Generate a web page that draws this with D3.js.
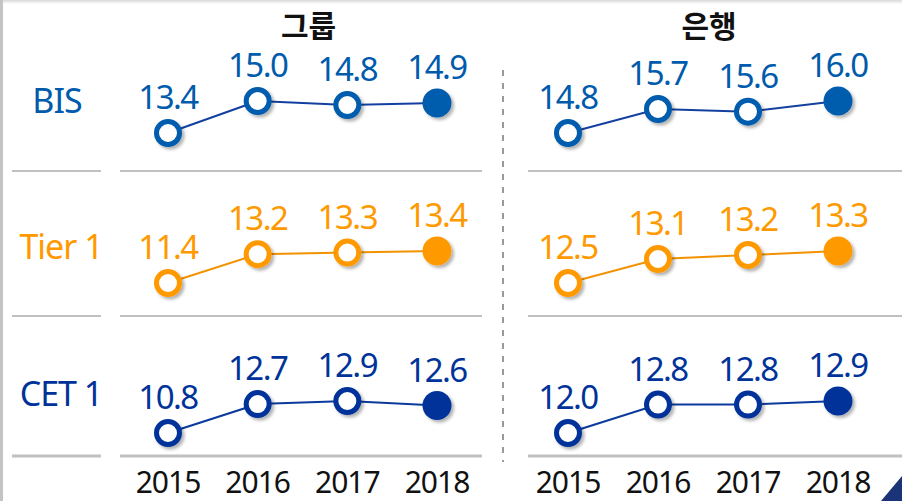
<!DOCTYPE html>
<html>
<head>
<meta charset="utf-8">
<script src="https://cdn.jsdelivr.net/npm/d3@7"></script>
<style>
  body { margin: 0; background: #fff; }
  svg { display: block; }
  text { font-family: "Noto Sans", "Noto Sans CJK KR", sans-serif; }
</style>
</head>
<body>
<div id="chart"></div>
<script>
const years = ["2015", "2016", "2017", "2018"];
const metrics = ["BIS", "Tier 1", "CET 1"];
const panels = ["그룹", "은행"];

// 그룹
const groupBIS = [13.4, 15.0, 14.8, 14.9];
const groupTier1 = [11.4, 13.2, 13.3, 13.4];
const groupCET1 = [10.8, 12.7, 12.9, 12.6];
// 은행
const bankBIS = [14.8, 15.7, 15.6, 16.0];
const bankTier1 = [12.5, 13.1, 13.2, 13.3];
const bankCET1 = [12.0, 12.8, 12.8, 12.9];

const series = [
  [groupBIS, groupTier1, groupCET1],
  [bankBIS, bankTier1, bankCET1]
];

const w = 902, h = 501;
const colors = ["#005bac", "#ff9900", "#003399"];
const lineColors = ["#1340a0", "#f39200", "#0a3a9c"];

const svg = d3.select("#chart").append("svg")
  .attr("width", w).attr("height", h);

// shadow
const defs = svg.append("defs");
const f = defs.append("filter").attr("id", "shadow")
  .attr("x", "-50%").attr("y", "-50%").attr("width", "200%").attr("height", "200%");
f.append("feDropShadow").attr("dx", 2.5).attr("dy", 2.5)
  .attr("stdDeviation", 1.8).attr("flood-color", "#000").attr("flood-opacity", 0.3);

const topG = defs.append("linearGradient").attr("id", "topg")
  .attr("x1", 0).attr("y1", 0).attr("x2", 0).attr("y2", 1);
topG.append("stop").attr("offset", 0).attr("stop-color", "#d8d8d8");
topG.append("stop").attr("offset", 1).attr("stop-color", "#fff");

// frame bits
svg.append("rect").attr("x", 0).attr("y", 0).attr("width", w).attr("height", 4)
  .attr("fill", "url(#topg)");
svg.append("rect").attr("x", 0).attr("y", 0).attr("width", 3).attr("height", h)
  .attr("fill", "#c4c4c4");
svg.append("path").attr("d", `M${w - 21},${h} L${w},${h - 25} L${w},${h} Z`)
  .attr("fill", "#1b3478");

// layout
const panelX = [[168, 437], [568, 838]];
const panelLine = [[120, 482], [528, 902]];
const rowBase = [0, 150, 300];
const sepY = [171, 316];
const bottomY = 456;

const xScales = panelX.map((r) => d3.scalePoint().domain(years).range(r));

// separators
sepY.forEach((y) => {
  svg.append("line").attr("x1", 12).attr("x2", 101).attr("y1", y).attr("y2", y)
    .attr("stroke", "#c0c0c0").attr("stroke-width", 2);
  panelLine.forEach((p) => {
    svg.append("line").attr("x1", p[0]).attr("x2", p[1]).attr("y1", y).attr("y2", y)
      .attr("stroke", "#c0c0c0").attr("stroke-width", 2);
  });
});
svg.append("line").attr("x1", 12).attr("x2", 101).attr("y1", bottomY).attr("y2", bottomY)
  .attr("stroke", "#c0c0c0").attr("stroke-width", 3);
panelLine.forEach((p) => {
  svg.append("line").attr("x1", p[0]).attr("x2", p[1]).attr("y1", bottomY).attr("y2", bottomY)
    .attr("stroke", "#c0c0c0").attr("stroke-width", 3);
});

// dashed divider
svg.append("line").attr("x1", 503).attr("x2", 503).attr("y1", 70).attr("y2", 462)
  .attr("stroke", "#999").attr("stroke-width", 2).attr("stroke-dasharray", "6,7");

// panel titles
svg.selectAll(".ptitle").data(panels).enter().append("text")
  .attr("class", "ptitle")
  .attr("x", (d, i) => (xScales[i].range()[0] + xScales[i].range()[1]) / 2 + 6)
  .attr("y", 37)
  .attr("text-anchor", "middle")
  .style("font-family", '"Noto Sans CJK KR", sans-serif')
  .style("font-size", "30px").style("font-weight", "bold")
  .attr("fill", "#111")
  .text((d) => d);

// row labels
const labelY = [113, 259, 406];
svg.selectAll(".rlabel").data(metrics).enter().append("text")
  .attr("class", "rlabel")
  .attr("x", (d, i) => (i === 0 ? 57 : 61))
  .attr("y", (d, i) => labelY[i])
  .attr("text-anchor", "middle")
  .style("font-size", "34px")
  .style("letter-spacing", "-1px")
  .attr("fill", (d, i) => colors[i])
  .text((d) => d);

// year labels
xScales.forEach((xs) => {
  svg.append("g").selectAll("text").data(years).enter().append("text")
    .attr("x", (d) => xs(d))
    .attr("y", 493)
    .attr("text-anchor", "middle")
    .style("font-size", "30px")
    .style("letter-spacing", "-1px")
    .attr("fill", "#111")
    .text((d) => d);
});

// lines, markers, values
series.forEach((rows, pi) => {
  const xs = xScales[pi];
  rows.forEach((vals, ri) => {
    const y = d3.scaleLinear()
      .domain(d3.extent(vals))
      .range([rowBase[ri] + 133, rowBase[ri] + 101]);
    const pts = vals.map((v, i) => [xs(years[i]), y(v)]);
    const g = svg.append("g");

    g.append("path")
      .attr("d", d3.line()(pts))
      .attr("fill", "none")
      .attr("stroke", lineColors[ri])
      .attr("stroke-width", 2);

    g.selectAll("circle").data(vals).enter().append("circle")
      .attr("cx", (d, i) => xs(years[i]))
      .attr("cy", (d) => y(d))
      .attr("r", (d, i) => (i === vals.length - 1 ? 14.5 : 11.5))
      .attr("fill", (d, i) => (i === vals.length - 1 ? colors[ri] : "#fff"))
      .attr("stroke", colors[ri])
      .attr("stroke-width", (d, i) => (i === vals.length - 1 ? 0 : 5))
      .attr("filter", "url(#shadow)");

    g.selectAll("text").data(vals).enter().append("text")
      .attr("x", (d, i) => xs(years[i]))
      .attr("y", (d) => y(d) - 24)
      .attr("text-anchor", "middle")
      .style("font-size", "33px")
      .style("letter-spacing", "-1.5px")
      .attr("fill", colors[ri])
      .text((d) => d.toFixed(1));
  });
});
</script>
</body>
</html>
